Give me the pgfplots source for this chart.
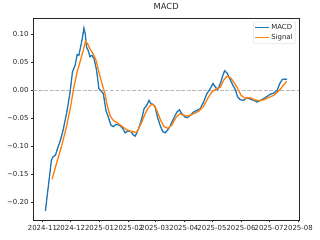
\documentclass[border=0pt]{standalone}
\usepackage{fontspec}
\setmainfont{DejaVu Sans}
\usepackage{pgfplots}
\pgfplotsset{compat=1.18}
\definecolor{mplblue}{HTML}{1F77B4}
\definecolor{mplorange}{HTML}{FF7F0E}
\begin{document}
\begin{tikzpicture}
\path[use as bounding box] (-48pt,-28.8pt) rectangle (412.8pt,316.8pt);
\begin{axis}[
  at={(0pt,0pt)}, anchor=south west,
  scale only axis, width=382.6pt, height=290.4pt,
  xmin=-9.7, xmax=273.9, ymin=-0.232, ymax=0.1286,
  axis line style={line width=0.8pt, black!85},
  tick align=outside, tick style={line width=0.8pt, black!85},
  major tick length=3.5pt,
  xtick={0,30,61,92,120,151,181,212,242,273},
  xticklabels={2024-11,2024-12,2025-01,2025-02,2025-03,2025-04,2025-05,2025-06,2025-07,2025-08},
  ytick={-0.20,-0.15,-0.10,-0.05,0,0.05,0.10},
  yticklabels={−0.20,−0.15,−0.10,−0.05,0.00,0.05,0.10},
  xtick pos=bottom, ytick pos=left,
  ticklabel style={font=\fontsize{10}{12}\selectfont, text=black!85},
  xticklabel style={inner xsep=0pt},
  title={MACD},
  title style={font=\fontsize{12}{14}\selectfont, text=black!85, anchor=base, at={(0.5,1)}, yshift=6pt},
  legend style={at={(0.987,0.983)}, anchor=north east, draw=black!20, rounded corners=2pt,
    font=\fontsize{10}{12}\selectfont, text=black!85, inner sep=2pt, row sep=1pt, fill=white, fill opacity=0.8, text opacity=1},
  legend cell align=left,
  legend image code/.code={\draw[#1] (0pt,0pt) -- (20pt,0pt);},
]
\addplot[gray!55, line width=0.9pt, dash pattern=on 5.5pt off 2.4pt, forget plot] coordinates {(-9.7,0) (273.9,0)};
\addplot[mplblue, line width=1.9pt] coordinates {
(3.2,-0.2155) (9.6,-0.125) (11.4,-0.119) (13.9,-0.116) (16.8,-0.101) (19.3,-0.089) (22.1,-0.071) (25.7,-0.042) (29.3,-0.006) (32.1,0.033) (35.0,0.045) (37.1,0.064) (38.9,0.0625) (40.7,0.077) (42.8,0.095) (44.3,0.111) (45.7,0.101) (47.1,0.077) (48.9,0.071) (50.7,0.060) (52.8,0.0625) (55.0,0.057) (57.8,0.036) (60.3,0.003) (62.5,-0.001) (65.0,-0.006) (67.8,-0.036) (70.3,-0.048) (73.2,-0.0625) (75.7,-0.065) (78.5,-0.061) (82.1,-0.0625) (85.7,-0.068) (88.2,-0.076) (91.0,-0.073) (94.6,-0.074) (97.1,-0.080) (98.9,-0.082) (100.6,-0.077) (103.5,-0.065) (106.0,-0.051) (108.5,-0.033) (111.3,-0.027) (113.8,-0.018) (115.6,-0.024) (117.8,-0.025) (120.3,-0.030) (122.8,-0.048) (125.6,-0.0625) (128.5,-0.074) (131.0,-0.076) (133.8,-0.071) (136.3,-0.064) (139.9,-0.051) (143.5,-0.039) (146.3,-0.035) (148.8,-0.042) (152.4,-0.048) (154.9,-0.049) (157.7,-0.045) (161.3,-0.039) (164.9,-0.036) (168.5,-0.033) (172.0,-0.021) (175.6,-0.006) (179.2,0.003) (182.0,0.012) (184.5,0.006) (187.0,0.001) (189.9,0.012) (192.7,0.027) (194.5,0.035) (197.0,0.031) (199.9,0.021) (202.4,0.012) (205.9,0.001) (208.4,-0.012) (211.3,-0.017) (214.8,-0.018) (218.4,-0.013) (222.0,-0.016) (225.6,-0.018) (229.1,-0.021) (232.7,-0.018) (236.3,-0.015) (239.8,-0.011) (243.4,-0.007) (247.0,-0.005) (250.5,0) (253.4,0.012) (255.9,0.019) (258.4,0.020) (261.2,0.0196)
};
\addlegendentry{MACD}
\addplot[mplorange, line width=1.9pt] coordinates {
(10.3,-0.159) (15.0,-0.131) (20.3,-0.101) (25.7,-0.065) (30.0,-0.030) (33.5,0.005) (37.1,0.033) (40.7,0.054) (43.5,0.071) (46.0,0.088) (48.2,0.083) (50.7,0.074) (54.2,0.065) (57.1,0.054) (60.7,0.030) (63.5,0.012) (66.7,-0.006) (69.2,-0.027) (72.1,-0.045) (75.7,-0.054) (79.9,-0.058) (84.6,-0.064) (89.2,-0.070) (93.5,-0.073) (97.1,-0.074) (99.9,-0.076) (102.4,-0.070) (106.0,-0.057) (109.6,-0.042) (113.1,-0.031) (116.7,-0.025) (119.6,-0.027) (122.8,-0.039) (126.3,-0.054) (129.9,-0.065) (133.8,-0.068) (138.1,-0.0625) (142.8,-0.048) (147.0,-0.042) (151.3,-0.045) (156.0,-0.046) (161.3,-0.042) (166.7,-0.0375) (172.0,-0.029) (176.3,-0.015) (180.9,-0.003) (185.6,0.003) (189.9,0.005) (193.4,0.018) (197.0,0.025) (200.6,0.0226) (204.9,0.013) (208.4,0.003) (212.0,-0.009) (216.6,-0.015) (221.3,-0.013) (226.3,-0.017) (230.9,-0.019) (236.3,-0.017) (241.6,-0.013) (247.0,-0.009) (251.2,-0.003) (255.9,0.006) (260.5,0.016)
};
\addlegendentry{Signal}
\end{axis}
\end{tikzpicture}
\end{document}
